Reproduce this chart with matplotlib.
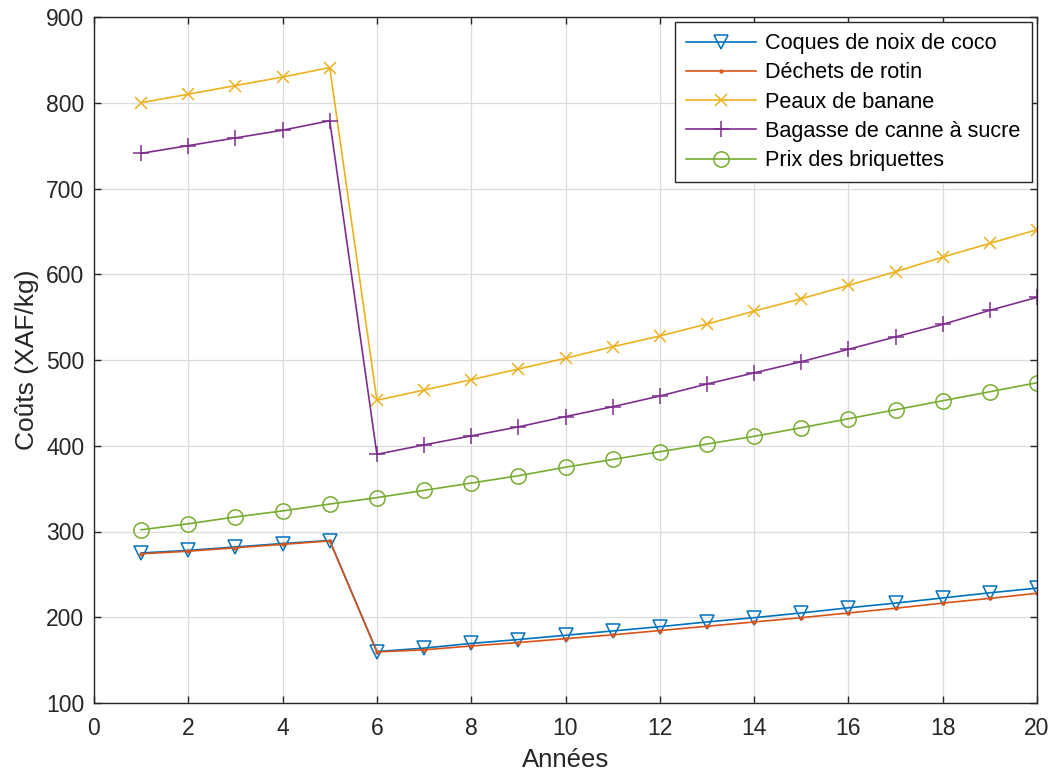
import matplotlib
matplotlib.use('Agg')
import matplotlib.pyplot as plt
import numpy as np

# années du projet
annees = np.arange(1, 21)

# coûts en XAF/kg
coques_coco = [275, 278, 282, 286, 289.5, 160, 164, 169.5, 174, 179, 184, 189,
               194.5, 199.5, 205, 211, 216.5, 222.5, 228.5, 234]
dechets_rotin = [274, 277, 281, 285, 289, 159.5, 162, 166.5, 170.5, 175, 179.5,
                 184.5, 189.5, 194.5, 199.5, 205, 210.5, 216.5, 222, 228]
peaux_banane = [800, 810, 820, 830, 841, 453, 465, 477, 489.5, 502, 515.5, 528,
                542, 557, 571.5, 587, 603, 620, 636, 652]
bagasse = [741, 750, 759, 768, 779, 390, 401, 411.5, 422, 434, 445.5, 458,
           472, 485, 498, 512.5, 527, 541.5, 558, 573]
prix_briquettes = [302, 309, 317, 324, 332, 339.5, 348, 356.5, 365, 375, 384,
                   393, 402, 411, 421, 431.5, 442, 452.5, 463, 473.5]

series = [
    ('Coques de noix de coco', coques_coco, '#0072BD', 'v', 10),
    ('Déchets de rotin', dechets_rotin, '#D95319', '.', 4),
    ('Peaux de banane', peaux_banane, '#EDB120', 'x', 8),
    ('Bagasse de canne à sucre', bagasse, '#7E2F8E', '+', 11),
    ('Prix des briquettes', prix_briquettes, '#77AC30', 'o', 11),
]

plt.rcParams['font.family'] = ['Liberation Sans', 'DejaVu Sans']

fig = plt.figure(figsize=(10.54, 7.73), dpi=100)
ax = fig.add_axes([94 / 1054, 1 - 703 / 773, (1037 - 94) / 1054, (703 - 17) / 773])

for label, values, color, marker, ms in series:
    ax.plot(annees, values, color=color, marker=marker, markersize=ms,
            markerfacecolor='none', markeredgecolor=color, markeredgewidth=1.1,
            linewidth=1.2, label=label)

ax.set_xlim(0, 20)
ax.set_ylim(100, 900)
ax.set_xticks(np.arange(0, 21, 2))
ax.set_yticks(np.arange(100, 901, 100))
ax.grid(True, color='#dcdcdc', linewidth=0.9)
ax.set_axisbelow(True)
ax.tick_params(direction='in', top=True, right=True, labelsize=16.5,
               length=5, width=1, colors='#262626', pad=7)
ax.tick_params(axis='x', pad=10)
for spine in ax.spines.values():
    spine.set_color('#262626')
    spine.set_linewidth(1)

ax.set_xlabel('Années', fontsize=18.5, color='#262626', labelpad=6)
ax.set_ylabel('Coûts (XAF/kg)', fontsize=19, color='#262626', labelpad=5)

leg = ax.legend(loc='upper right', fontsize=15.6, handlelength=3.2,
                fancybox=False, edgecolor='#262626', framealpha=1,
                borderpad=0.5, labelspacing=0.38, handletextpad=0.45,
                borderaxespad=0.25)
leg.get_frame().set_linewidth(1)

fig.savefig('out.png', dpi=100)
